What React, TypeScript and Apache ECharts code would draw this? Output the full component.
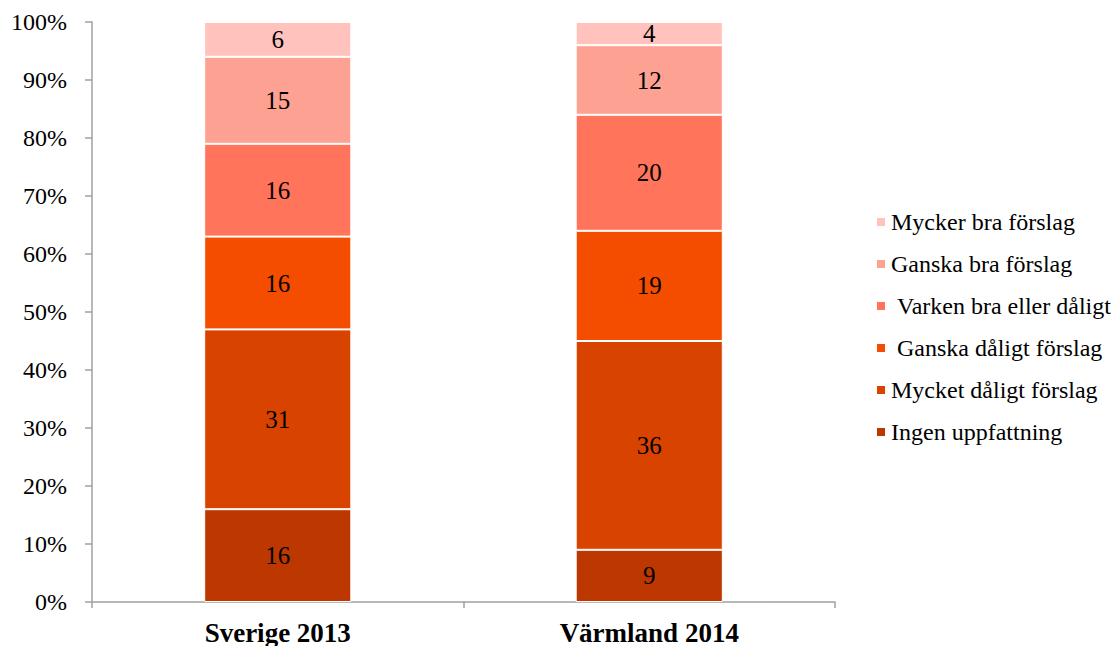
import React, { useEffect, useRef } from "react";
import * as echarts from "echarts";

const categories = ["Sverige 2013", "Värmland 2014"];
const seriesNames = [
  "Ingen uppfattning",
  "Mycket dåligt förslag",
  "\u00A0Ganska dåligt förslag",
  "\u00A0Varken bra eller dåligt",
  "Ganska bra förslag",
  "Mycker bra förslag",
];
const ingen = [16, 9];
const mycketDaligt = [31, 36];
const ganskaDaligt = [16, 19];
const varken = [16, 20];
const ganskaBra = [15, 12];
const myckerBra = [6, 4];
const colors = ["#BD3800", "#D94300", "#F44D00", "#FF745A", "#FDA192", "#FFC2BD"];
const yTicks = [0, 10, 20, 30, 40, 50, 60, 70, 80, 90, 100];

const FONT = "'Liberation Serif', 'Times New Roman', serif";

export default function App() {
  const ref = useRef<HTMLDivElement>(null);
  useEffect(() => {
    if (!ref.current) return;
    const chart = echarts.init(ref.current, undefined, { renderer: "svg" });
    const values = [ingen, mycketDaligt, ganskaDaligt, varken, ganskaBra, myckerBra];
    chart.setOption({
      animation: false,
      grid: { left: 92, right: 285, top: 22, bottom: 44, containLabel: false },
      legend: {
        orient: "vertical",
        left: 870,
        top: 205,
        data: seriesNames.slice().reverse(),
        icon: "rect",
        itemWidth: 10,
        itemHeight: 10,
        itemGap: 18,
        textStyle: { fontFamily: FONT, fontSize: 24, color: "#000", lineHeight: 24 },
      },
      xAxis: {
        type: "category",
        data: categories,
        axisLine: { lineStyle: { color: "#A0A0A0", width: 1.5 } },
        axisTick: { show: true, length: 6, lineStyle: { color: "#A0A0A0", width: 1.5 } },
        axisLabel: { fontFamily: FONT, fontSize: 27, fontWeight: "bold", color: "#000", margin: 17 },
      },
      yAxis: {
        type: "value",
        min: yTicks[0],
        max: yTicks[yTicks.length - 1],
        interval: 10,
        axisLine: { show: true, lineStyle: { color: "#A0A0A0", width: 1.5 } },
        axisTick: { show: true, length: 7, lineStyle: { color: "#A0A0A0", width: 1.5 } },
        splitLine: { show: false },
        axisLabel: { fontFamily: FONT, fontSize: 24, color: "#000", margin: 25, formatter: "{value}%" },
      },
      series: seriesNames.map((name, i) => ({
        name,
        type: "bar",
        stack: "total",
        barWidth: "39.6%",
        data: values[i],
        itemStyle: { color: colors[i], borderColor: "#fff", borderWidth: 1 },
        label: {
          show: true,
          position: "inside",
          color: "#000",
          fontFamily: FONT,
          fontSize: 25,
        },
      })),
    });
    return () => chart.dispose();
  }, []);
  return (
    <div
      ref={ref}
      style={{ position: "absolute", left: 0, top: 0, width: 1120, height: 646, background: "#fff" }}
    />
  );
}
